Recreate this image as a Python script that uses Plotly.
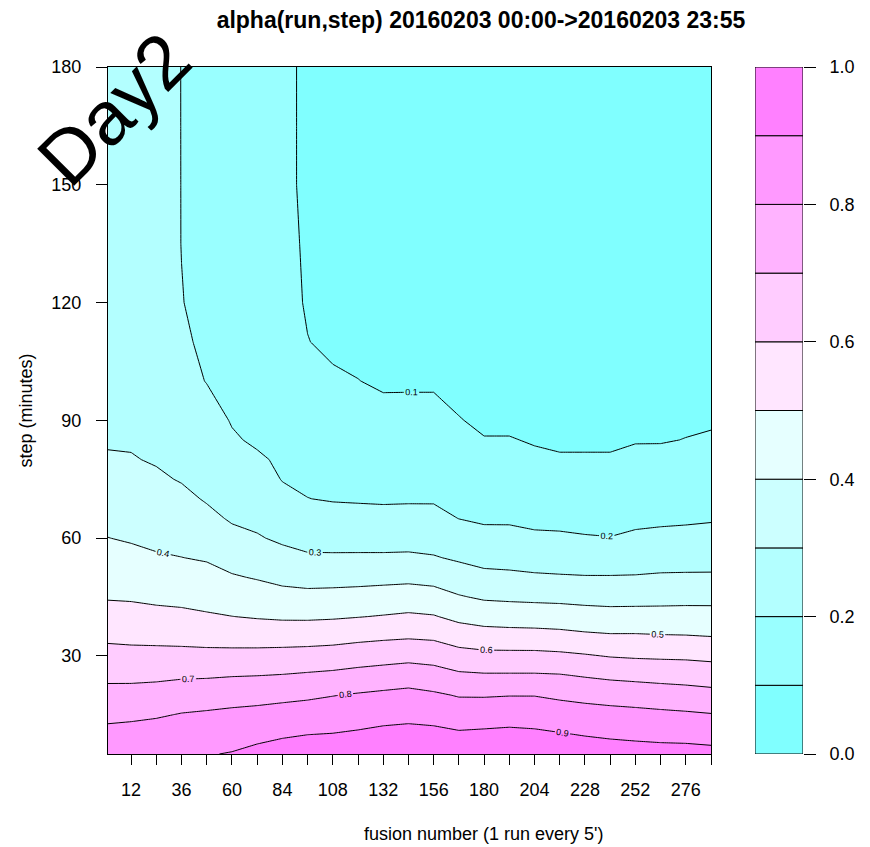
import plotly.graph_objects as go

# ---- data ----
fusion_number = [1, 12, 24, 36, 48, 60, 72, 84, 96, 108, 120, 132, 144,
                 156, 168, 180, 192, 204, 216, 228, 240, 252, 264, 276, 288]
step_minutes = [5, 10, 15, 20, 25, 30, 35, 40, 45, 50, 55, 60, 65, 70, 75,
                80, 85, 90, 100, 110, 120, 135, 150, 165, 180]

# one list per fusion number (column), values along step_minutes
alpha_by_run = [
    [.870, .826, .778, .729, .680, .631, .582, .536, .493, .462, .432, .401, .378, .355, .332, .306, .294, .289, .280, .276, .272, .266, .262, .256, .250],
    [.880, .833, .782, .731, .679, .627, .578, .533, .490, .456, .422, .392, .370, .348, .326, .304, .293, .286, .270, .266, .262, .257, .252, .246, .240],
    [.890, .844, .790, .737, .682, .627, .575, .525, .482, .445, .408, .382, .358, .335, .311, .294, .283, .272, .250, .245, .240, .236, .233, .231, .230],
    [.890, .860, .805, .747, .689, .627, .571, .520, .477, .439, .401, .373, .346, .319, .295, .280, .265, .250, .220, .210, .202, .199, .199, .199, .199],
    [.895, .870, .813, .752, .691, .625, .566, .510, .468, .429, .392, .356, .321, .293, .276, .260, .243, .226, .198, .188, .182, .179, .176, .175, .174],
    [.905, .862, .820, .764, .696, .626, .562, .501, .454, .408, .366, .324, .291, .270, .249, .228, .207, .196, .178, .166, .160, .157, .154, .154, .154],
    [.925, .876, .827, .769, .699, .628, .559, .493, .443, .394, .350, .307, .280, .257, .233, .209, .191, .185, .159, .145, .138, .135, .131, .131, .131],
    [.943, .889, .836, .777, .704, .632, .558, .487, .430, .376, .327, .286, .253, .220, .197, .190, .182, .175, .140, .123, .116, .113, .109, .109, .109],
    [.954, .899, .844, .785, .712, .636, .560, .486, .425, .367, .311, .271, .236, .201, .188, .175, .163, .151, .126, .101, .096, .094, .093, .093, .093],
    [.956, .903, .851, .797, .720, .642, .565, .490, .428, .368, .311, .268, .227, .195, .180, .165, .151, .136, .106, .092, .085, .082, .080, .080, .080],
    [.965, .912, .859, .808, .732, .654, .575, .497, .432, .371, .312, .266, .224, .193, .178, .163, .147, .132, .101, .085, .078, .074, .072, .071, .070],
    [.980, .924, .869, .818, .742, .663, .583, .505, .439, .374, .312, .266, .222, .191, .173, .155, .137, .119, .092, .080, .072, .068, .066, .065, .065],
    [.985, .930, .875, .828, .751, .672, .589, .514, .445, .378, .314, .267, .224, .192, .174, .156, .138, .120, .092, .080, .072, .067, .065, .064, .064],
    [.983, .925, .868, .813, .740, .663, .583, .506, .436, .370, .306, .263, .223, .192, .174, .156, .138, .120, .092, .079, .071, .066, .064, .063, .063],
    [.970, .912, .853, .794, .716, .635, .554, .476, .407, .344, .288, .243, .199, .180, .160, .141, .121, .102, .085, .073, .067, .063, .061, .060, .060],
    [.978, .917, .856, .793, .710, .625, .540, .460, .388, .324, .271, .224, .189, .167, .145, .124, .102, .092, .078, .070, .065, .062, .060, .060, .060],
    [.985, .923, .860, .797, .710, .625, .536, .455, .383, .319, .268, .223, .189, .167, .145, .124, .102, .092, .078, .070, .065, .062, .060, .060, .060],
    [.976, .917, .857, .797, .710, .625, .534, .452, .379, .312, .261, .213, .182, .157, .132, .107, .097, .090, .077, .068, .063, .060, .058, .058, .058],
    [.965, .906, .847, .784, .706, .619, .528, .448, .376, .308, .258, .211, .180, .154, .129, .103, .095, .088, .076, .067, .062, .059, .057, .056, .056],
    [.953, .895, .838, .773, .693, .608, .517, .440, .370, .305, .254, .205, .178, .153, .128, .103, .095, .088, .076, .067, .062, .059, .057, .056, .056],
    [.942, .887, .831, .764, .681, .595, .510, .434, .367, .305, .253, .202, .176, .152, .127, .103, .095, .088, .076, .067, .062, .059, .057, .056, .056],
    [.937, .881, .826, .756, .674, .589, .510, .435, .368, .306, .259, .213, .183, .159, .136, .112, .097, .091, .078, .069, .064, .060, .058, .057, .057],
    [.933, .876, .819, .748, .667, .586, .506, .435, .370, .311, .263, .219, .186, .162, .137, .113, .097, .091, .078, .069, .064, .060, .058, .057, .057],
    [.932, .873, .813, .740, .662, .584, .504, .436, .372, .312, .265, .222, .189, .167, .145, .123, .101, .093, .080, .070, .065, .061, .059, .058, .058],
    [.927, .866, .805, .730, .654, .577, .499, .435, .372, .312, .267, .227, .193, .171, .149, .127, .106, .094, .081, .071, .066, .062, .060, .059, .059],
]

level_edges = [0.0, 0.1, 0.2, 0.3, 0.4, 0.5, 0.6, 0.7, 0.8, 0.9, 1.0]
level_colors = ["#80FFFF", "#99FFFF", "#B3FFFF", "#CCFFFF", "#E6FFFF",
                "#FFE6FF", "#FFCCFF", "#FFB3FF", "#FF99FF", "#FF80FF"]

x_tick_vals = [12, 24, 36, 48, 60, 72, 84, 96, 108, 120, 132, 144, 156, 168,
               180, 192, 204, 216, 228, 240, 252, 264, 276, 288]
x_tick_labels = ["12", "", "36", "", "60", "", "84", "", "108", "", "132", "",
                 "156", "", "180", "", "204", "", "228", "", "252", "", "276", ""]
y_tick_vals = [30, 60, 90, 120, 150, 180]
key_tick_vals = [0.0, 0.2, 0.4, 0.6, 0.8, 1.0]
key_tick_labels = ["0.0", "0.2", "0.4", "0.6", "0.8", "1.0"]

title_text = "alpha(run,step) 20160203 00:00->20160203 23:55"
x_title = "fusion number (1 run every 5')"
y_title = "step (minutes)"
stamp = "Day2"

FONT = "Liberation Sans, Arial, sans-serif"

n_bands = len(level_colors)
colorscale = [[i / (n_bands - 1), c] for i, c in enumerate(level_colors)]

fig = go.Figure()
fig.add_trace(go.Contour(
    x=fusion_number, y=step_minutes, z=alpha_by_run, transpose=True,
    contours=dict(start=level_edges[1], end=level_edges[-2], size=0.1,
                  coloring="fill", showlabels=True,
                  labelfont=dict(size=9, color="black", family=FONT),
                  labelformat=".1f"),
    colorscale=colorscale, showscale=False,
    line=dict(color="black", width=1, smoothing=0),
    hoverinfo="skip", xaxis="x", yaxis="y",
))

heights = [b - a for a, b in zip(level_edges[:-1], level_edges[1:])]
fig.add_trace(go.Bar(
    x=[0] * n_bands, y=heights, base=level_edges[:-1], width=1,
    marker=dict(color=level_colors, line=dict(color="black", width=1)),
    showlegend=False, hoverinfo="skip", xaxis="x2", yaxis="y2",
))

# the page body adds an 8px offset, so the figure is drawn 8px smaller
W, H = 862, 839
L, R, T, B = 100, 67, 59, 93
pw = W - L - R
ph = H - T - B
main_right = 703
key_left = 747

fig.update_layout(
    width=W, height=H,
    margin=dict(l=L, r=R, t=T, b=B, autoexpand=False),
    paper_bgcolor="white", plot_bgcolor="white",
    font=dict(family=FONT, size=18, color="black"),
    barmode="overlay",
    title=dict(text="<b>" + title_text + "</b>", x=473 / W, xref="container",
               xanchor="center", y=1 - 12 / H, yref="container", yanchor="middle",
               font=dict(size=23, color="black", family=FONT)),
    xaxis=dict(domain=[0, (main_right - L) / pw], range=[1, 288],
               tickvals=x_tick_vals, ticktext=x_tick_labels,
               ticks="outside", ticklen=10, tickcolor="black", tickwidth=1,
               ticklabelstandoff=9,
               showline=True, mirror=True, linecolor="black", linewidth=1,
               showgrid=False, zeroline=False,
               tickfont=dict(size=18)),
    yaxis=dict(domain=[0, 1], range=[5, 180], tickvals=y_tick_vals,
               ticks="outside", ticklen=11, tickcolor="black", tickwidth=1,
               ticklabelstandoff=11,
               showline=True, mirror=True, linecolor="black", linewidth=1,
               showgrid=False, zeroline=False,
               tickfont=dict(size=18),
               title=dict(text=y_title, font=dict(size=18), standoff=14)),
    xaxis2=dict(domain=[(key_left - L) / pw, 1], range=[-0.5, 0.5],
                visible=False, anchor="y2"),
    yaxis2=dict(domain=[0, 1], range=[0, 1], anchor="x2", side="right",
                tickvals=key_tick_vals, ticktext=key_tick_labels,
                ticks="outside", ticklen=12, tickcolor="black", tickwidth=1,
                ticklabelstandoff=10,
                showline=False, showgrid=False, zeroline=False,
                tickfont=dict(size=18)),
    annotations=[
        dict(text=stamp, x=(105 - L) / pw, y=1 - (101 - T) / ph,
             xref="paper", yref="paper", showarrow=False,
             textangle=-45, font=dict(size=76, color="black", family=FONT),
             xanchor="center", yanchor="middle"),
        dict(text=x_title, x=(476 - L) / pw, y=-(826 - (T + ph)) / ph,
             xref="paper", yref="paper", showarrow=False,
             font=dict(size=18, color="black", family=FONT),
             xanchor="center", yanchor="middle"),
    ],
)

fig.write_html("out.html")
